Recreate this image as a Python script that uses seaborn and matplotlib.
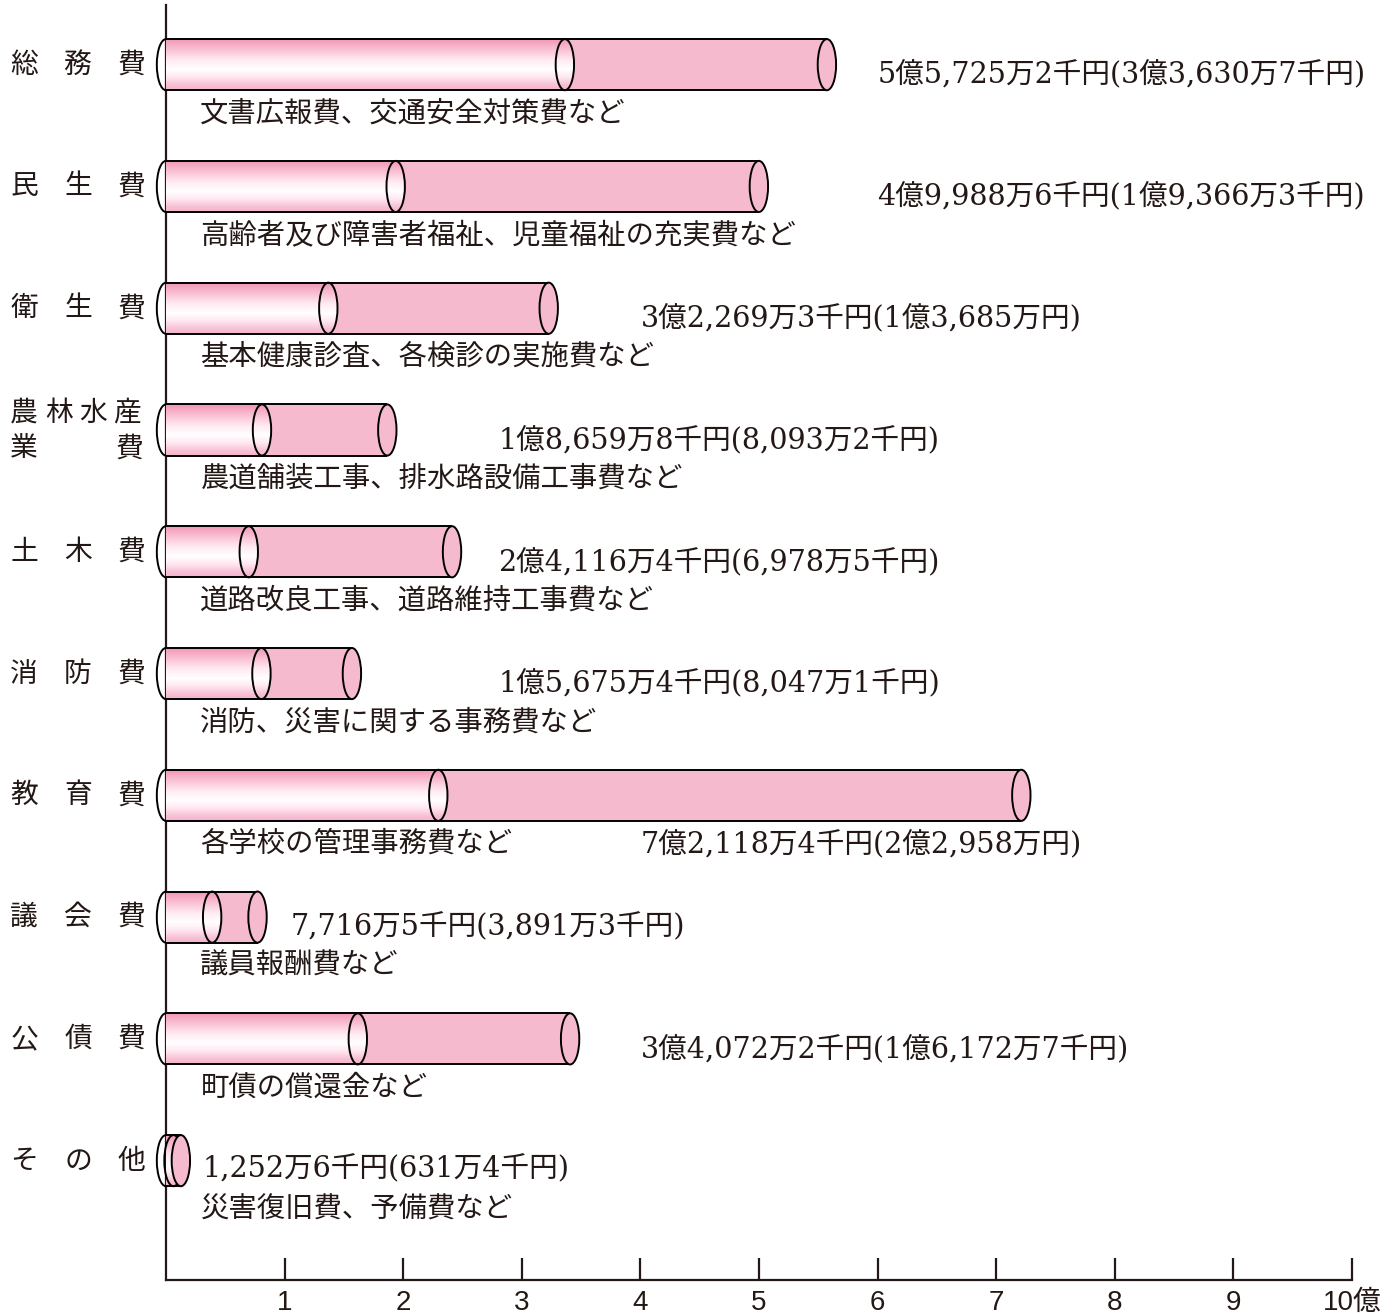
import numpy as np
import matplotlib
matplotlib.use('Agg')
import matplotlib.pyplot as plt
import matplotlib.patches as mpatches
from matplotlib.colors import LinearSegmentedColormap
import seaborn as sns

# --- data (単位: 億円) ---
categories = ['総務費', '民生費', '衛生費', '農林水産業費', '土木費',
              '消防費', '教育費', '議会費', '公債費', 'その他']
totals = [5.57252, 4.99886, 3.22693, 1.86598, 2.41164,
          1.56754, 7.21184, 0.77165, 3.40722, 0.12526]
inner = [3.36307, 1.93663, 1.36850, 0.80932, 0.69785,
         0.80471, 2.29580, 0.38913, 1.61727, 0.06314]
value_labels = ['5億5,725万2千円(3億3,630万7千円)',
                '4億9,988万6千円(1億9,366万3千円)',
                '3億2,269万3千円(1億3,685万円)',
                '1億8,659万8千円(8,093万2千円)',
                '2億4,116万4千円(6,978万5千円)',
                '1億5,675万4千円(8,047万1千円)',
                '7億2,118万4千円(2億2,958万円)',
                '7,716万5千円(3,891万3千円)',
                '3億4,072万2千円(1億6,172万7千円)',
                '1,252万6千円(631万4千円)']
notes = ['文書広報費、交通安全対策費など',
         '高齢者及び障害者福祉、児童福祉の充実費など',
         '基本健康診査、各検診の実施費など',
         '農道舗装工事、排水路設備工事費など',
         '道路改良工事、道路維持工事費など',
         '消防、災害に関する事務費など',
         '各学校の管理事務費など',
         '議員報酬費など',
         '町債の償還金など',
         '災害復旧費、予備費など']
tick_vals = list(range(1, 11))
tick_labels = ['1', '2', '3', '4', '5', '6', '7', '8', '9', '10億']

# --- layout ---
value_x = [6.0, 6.0, 4.0, 2.8, 2.8, 2.8, 4.0, 1.05, 4.0, 0.31]
value_dy = [0.08, 0.08, 0.08, 0.08, 0.08, 0.08, 0.40, 0.08, 0.08, 0.07]
note_x = 0.29
note_dy = 0.40
H = 0.42     # bar thickness (category units)
EW = 0.155   # ellipse width (data units)

PINK = (246/255, 186/255, 206/255)
INK = '#231815'
JP = ['Noto Sans CJK JP', 'DejaVu Sans']
SERIF = ['DejaVu Serif', 'Noto Sans CJK JP']

sns.set_style('white')
plt.rcParams['font.family'] = JP

fig = plt.figure(figsize=(13.94, 13.14), dpi=100)
ax = fig.add_axes([166/1394, 34/1314, 1186/1394, 1275/1314])

sns.barplot(x=totals, y=categories, orient='h', color=PINK, saturation=1,
            width=H, edgecolor='none', linewidth=0, ax=ax, zorder=3)

grad_cmap = LinearSegmentedColormap.from_list('cyl', [
    (0.00, (0.94, 0.58, 0.70)),
    (0.15, (0.97, 0.70, 0.79)),
    (0.42, (1.00, 0.92, 0.95)),
    (0.60, (1.00, 1.00, 1.00)),
    (0.76, (1.00, 0.90, 0.94)),
    (0.90, (0.97, 0.76, 0.84)),
    (1.00, (0.95, 0.70, 0.80)),
])
grad = np.linspace(0, 1, 120)[:, None]


def cyl_clip(x0, x1, yc, h, ew, n=50):
    t1 = np.linspace(np.pi / 2, 3 * np.pi / 2, n)
    left = np.column_stack([x0 + ew / 2 * np.cos(t1), yc + h / 2 * np.sin(t1)])
    t2 = np.linspace(-np.pi / 2, np.pi / 2, n)
    right = np.column_stack([x1 + ew / 2 * np.cos(t2), yc + h / 2 * np.sin(t2)])
    return np.vstack([left, right])


def px_to_axfrac(px):
    return (px - 166) / 1186


for i, cat in enumerate(categories):
    yc = i
    tot = totals[i]
    inn = inner[i]
    # white gradient part
    im = ax.imshow(grad, cmap=grad_cmap, aspect='auto', interpolation='bilinear',
                   extent=(-EW / 2, inn + EW / 2, yc + H / 2, yc - H / 2),
                   origin='upper', zorder=3.1)
    clip = mpatches.Polygon(cyl_clip(0, inn, yc, H, EW), closed=True,
                            facecolor='none', edgecolor='none', transform=ax.transData)
    im.set_clip_path(clip)
    im.set_clip_box(None)
    # outlines
    ax.plot([0, tot], [yc - H / 2, yc - H / 2], color='black', lw=1.4, zorder=3.5,
            solid_capstyle='butt')
    ax.plot([0, tot], [yc + H / 2, yc + H / 2], color='black', lw=1.4, zorder=3.5,
            solid_capstyle='butt')
    ax.add_patch(mpatches.Arc((0, yc), EW, H, theta1=90, theta2=270,
                              color='black', lw=1.4, zorder=3.5, clip_on=False))
    ax.add_patch(mpatches.Ellipse((inn, yc), EW, H, facecolor='none',
                                  edgecolor='black', lw=1.4, zorder=3.6, clip_on=False))
    ax.add_patch(mpatches.Ellipse((tot, yc), EW, H, facecolor=PINK,
                                  edgecolor='black', lw=1.4, zorder=3.7, clip_on=False))
    # texts
    ax.text(value_x[i], yc + value_dy[i], value_labels[i], fontsize=20.6,
            family=SERIF, va='center', ha='left', color=INK)
    ax.text(note_x, yc + note_dy, notes[i], fontsize=20.4, family=JP,
            va='center', ha='left', color=INK)

    # category label, characters spread over fixed width
    trans = ax.get_yaxis_transform()
    if len(cat) == 3:
        for ch, px in zip(cat, [24, 78, 131]):
            ax.text(px_to_axfrac(px), yc, ch, fontsize=20, family=JP, transform=trans,
                    ha='center', va='center', color=INK)
    else:
        for ch, px in zip(cat[:4], [24, 59, 93, 127]):
            ax.text(px_to_axfrac(px), yc - 0.14, ch, fontsize=20, family=JP,
                    transform=trans, ha='center', va='center', color=INK)
        for ch, px in zip(cat[4:], [24, 129]):
            ax.text(px_to_axfrac(px), yc + 0.15, ch, fontsize=20, family=JP,
                    transform=trans, ha='center', va='center', color=INK)

ax.set_xlim(0, 10)
ax.set_ylim(9.98, -0.49)
ax.set_xlabel('')
ax.set_ylabel('')
ax.set_yticks([])
ax.set_xticks(tick_vals)
ax.set_xticklabels(tick_labels, family=['Liberation Sans', 'Noto Sans CJK JP'], fontsize=20)
ax.tick_params(axis='x', direction='in', length=16, width=1.6, pad=7,
               colors=INK, bottom=True)
for side in ['top', 'right']:
    ax.spines[side].set_visible(False)
for side in ['left', 'bottom']:
    ax.spines[side].set_linewidth(1.6)
    ax.spines[side].set_color(INK)

fig.savefig('out.png', dpi=100, facecolor='white')
